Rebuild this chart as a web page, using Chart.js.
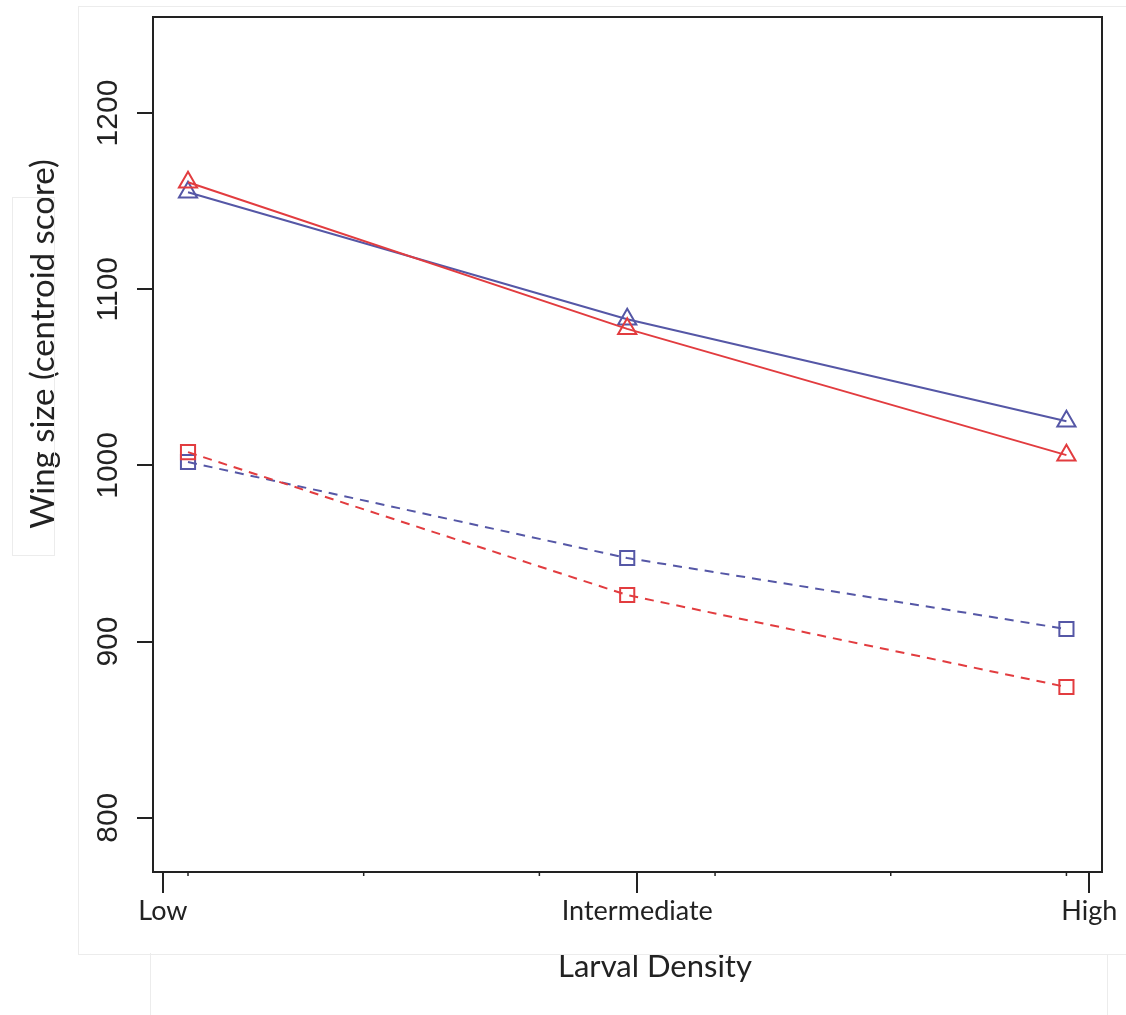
<!DOCTYPE html>
<html lang="en">
<head>
    <meta charset="UTF-8">
    <title>Wing size vs larval density</title>
    <script src="https://cdn.jsdelivr.net/npm/chart.js"></script>
    <style>
        body {
            margin: 0;
            background: #fff;
        }

        .wrap {
            position: relative;
            width: 1126px;
            height: 1015px;
        }

        /* faint scan edges from the original figure */
        .edge {
            position: absolute;
            border: 1px solid #ececec;
        }
    </style>
</head>
<body>
    <div class="wrap">
        <div class="edge" style="left:78px; top:6px; width:1060px; height:947px; border-right:none;"></div>
        <div class="edge" style="left:12px; top:197px; width:41px; height:357px;"></div>
        <div class="edge" style="left:150px; top:953px; width:0; height:70px; border-left:none; border-top:none; border-bottom:none;"></div>
        <div class="edge" style="left:1107px; top:955px; width:0; height:70px; border-left:none; border-top:none; border-bottom:none;"></div>
        <canvas id="chart" width="1126" height="1015"></canvas>
    </div>

    <script>
        // data
        const densityPos = [0, 1, 2];             // Low, Intermediate, High
        const redTriangle = [1160.7, 1077.5, 1005.8];
        const blueTriangle = [1155.0, 1082.9, 1025.1];
        const redSquare = [1007.5, 926.4, 874.2];
        const blueSquare = [1001.9, 947.4, 907.1];

        // axes
        const xLabels = ['Low', 'Intermediate', 'High'];
        const xMajorTicks = [-0.057, 1.023, 2.052];
        const xMinorTicks = [0, 0.4, 0.8, 1.2, 1.6, 2.0];
        const yTicks = [800, 900, 1000, 1100, 1200];

        const RED = '#e23c3f';
        const BLUE = '#5557a6';
        const INK = '#222';

        function pts(vals) {
            return densityPos.map((x, i) => ({ x: x, y: vals[i] }));
        }

        function series(vals, color, style, dashed) {
            return {
                data: pts(vals),
                borderColor: color,
                borderWidth: 2,
                borderDash: dashed ? [9, 7] : [],
                pointStyle: style,
                pointRadius: style === 'triangle' ? 10.5 : 10,
                pointBorderWidth: 2,
                pointBorderColor: color,
                pointBackgroundColor: 'rgba(0,0,0,0)',
                tension: 0,
                fill: false
            };
        }

        // extra drawing: box, minor ticks, y tick labels, axis titles
        const decor = {
            id: 'decor',
            afterDraw(chart) {
                const c = chart.ctx;
                const a = chart.chartArea;
                const xs = chart.scales.x;
                const ys = chart.scales.y;

                c.save();
                c.strokeStyle = INK;
                c.lineWidth = 2;
                c.strokeRect(a.left, a.top, a.right - a.left, a.bottom - a.top);

                c.lineWidth = 1.5;
                xMinorTicks.forEach(v => {
                    const px = xs.getPixelForValue(v);
                    c.beginPath();
                    c.moveTo(px, a.bottom);
                    c.lineTo(px, a.bottom + 4);
                    c.stroke();
                });

                c.fillStyle = INK;
                c.font = "30px 'Liberation Sans Narrow', 'Arial Narrow', 'Liberation Sans', sans-serif";
                c.textAlign = 'center';
                c.textBaseline = 'alphabetic';
                yTicks.forEach(v => {
                    const py = ys.getPixelForValue(v);
                    c.save();
                    c.translate(117, py);
                    c.rotate(-Math.PI / 2);
                    c.fillText(String(v), 0, 0);
                    c.restore();
                });

                c.font = "33px Lato, 'Noto Sans', sans-serif";
                c.save();
                c.translate(54, 344);
                c.rotate(-Math.PI / 2);
                c.fillText('Wing size (centroid score)', 0, 0);
                c.restore();

                c.font = "31px Lato, 'Noto Sans', sans-serif";
                c.fillText('Larval Density', 655, 977);
                c.restore();
            }
        };

        new Chart(document.getElementById('chart'), {
            type: 'line',
            data: {
                datasets: [
                    series(redTriangle, RED, 'triangle', false),
                    series(blueTriangle, BLUE, 'triangle', false),
                    series(redSquare, RED, 'rect', true),
                    series(blueSquare, BLUE, 'rect', true)
                ]
            },
            options: {
                responsive: false,
                animation: false,
                layout: { padding: { left: 0, right: 24, top: 17, bottom: 0 } },
                plugins: {
                    legend: { display: false },
                    tooltip: { enabled: false }
                },
                scales: {
                    x: {
                        type: 'linear',
                        min: -0.0797,
                        max: 2.081,
                        afterBuildTicks: s => { s.ticks = xMajorTicks.map(v => ({ value: v })); },
                        afterFit: s => { s.height = 1015 - 872; },
                        grid: {
                            drawOnChartArea: false,
                            drawTicks: true,
                            tickLength: 21,
                            color: INK,
                            lineWidth: 2
                        },
                        border: { display: true, color: INK, width: 2 },
                        ticks: {
                            padding: 2,
                            maxRotation: 0,
                            autoSkip: false,
                            color: INK,
                            font: { family: "Lato, 'Noto Sans', sans-serif", size: 27 },
                            callback: (v, i) => xLabels[i]
                        }
                    },
                    y: {
                        type: 'linear',
                        min: 769.2,
                        max: 1254.5,
                        afterBuildTicks: s => { s.ticks = yTicks.map(v => ({ value: v })); },
                        afterFit: s => { s.width = 153; },
                        grid: {
                            drawOnChartArea: false,
                            drawTicks: true,
                            tickLength: 16,
                            color: INK,
                            lineWidth: 2
                        },
                        border: { display: true, color: INK, width: 2 },
                        ticks: { display: false }
                    }
                }
            },
            plugins: [decor]
        });
    </script>
</body>
</html>
